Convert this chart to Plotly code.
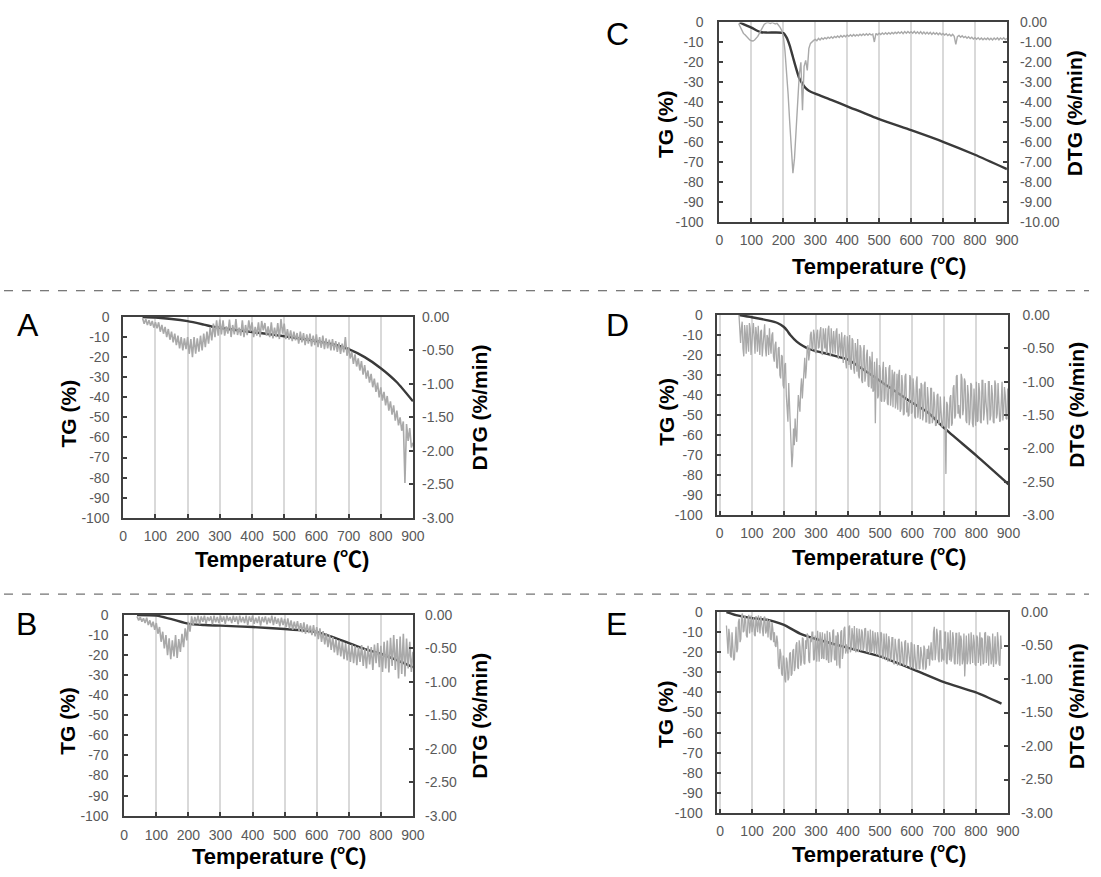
import plotly.graph_objects as go

# ---------------- DATA ----------------
temp_ticks = [0, 100, 200, 300, 400, 500, 600, 700, 800, 900]
tg_ticks = [0, -10, -20, -30, -40, -50, -60, -70, -80, -90, -100]
dtg_ticks_small = [0.0, -0.5, -1.0, -1.5, -2.0, -2.5, -3.0]
dtg_ticks_large = [0.0, -1.0, -2.0, -3.0, -4.0, -5.0, -6.0, -7.0, -8.0, -9.0, -10.0]

# Panel A
tg_a_x = [60, 100, 150, 200, 250, 280, 300, 350, 400, 450, 500, 550, 600, 650, 700, 750, 800, 850, 900]
tg_a_y = [0, -0.3, -1.0, -2.1, -3.8, -4.9, -5.4, -6.5, -7.5, -8.5, -9.6, -10.7, -12.0, -13.6, -16.0, -20.0, -25.5, -32.5, -42.0]
dtg_a_start, dtg_a_step = 60, 5
dtg_a = [
    -0.02, -0.10, -0.03, -0.12, -0.05, -0.13, -0.06, -0.16, -0.08, -0.17,
    -0.08, -0.22, -0.12, -0.25, -0.15, -0.30, -0.18, -0.34, -0.22, -0.38,
    -0.25, -0.42, -0.28, -0.47, -0.30, -0.50, -0.32, -0.48, -0.30, -0.55,
    -0.33, -0.60, -0.30, -0.55, -0.32, -0.52, -0.28, -0.50, -0.25, -0.45,
    -0.22, -0.40, -0.15, -0.35, -0.10, -0.30, -0.05, -0.28, -0.04, -0.26,
    -0.05, -0.28, -0.14, -0.25, -0.04, -0.30, -0.12, -0.26, -0.03, -0.27,
    -0.16, -0.28, -0.05, -0.30, -0.12, -0.27, -0.05, -0.22, -0.08, -0.30,
    -0.15, -0.28, -0.08, -0.30, -0.06, -0.20, -0.09, -0.28, -0.14, -0.30,
    -0.08, -0.32, -0.16, -0.30, -0.09, -0.33, -0.03, -0.25, -0.10, -0.33,
    -0.18, -0.34, -0.20, -0.36, -0.22, -0.35, -0.24, -0.40, -0.22, -0.38,
    -0.24, -0.42, -0.26, -0.40, -0.25, -0.44, -0.28, -0.42, -0.26, -0.45,
    -0.30, -0.46, -0.28, -0.48, -0.32, -0.47, -0.34, -0.50, -0.33, -0.50,
    -0.36, -0.52, -0.38, -0.55, -0.40, -0.53, -0.30, -0.58, -0.45, -0.62,
    -0.52, -0.70, -0.56, -0.74, -0.62, -0.80, -0.66, -0.86, -0.72, -0.92,
    -0.80, -0.98, -0.85, -1.05, -0.92, -1.12, -0.98, -1.20, -1.05, -1.25,
    -1.12, -1.32, -1.18, -1.40, -1.26, -1.46, -1.32, -1.55, -1.40, -1.62,
    -1.50, -1.70, -1.56, -2.48, -1.60, -1.85, -1.66, -1.95, -1.88,
]
dtg_a_mid = []

# Panel B
tg_b_x = [40, 100, 150, 200, 250, 300, 400, 500, 600, 650, 700, 750, 800, 850, 900]
tg_b_y = [0, -0.3, -2.2, -4.4, -5.0, -5.3, -6.0, -7.0, -8.5, -11.0, -14.0, -17.0, -19.3, -22.5, -26.0]
dtg_b_start, dtg_b_step = 40, 5
dtg_b = [
    -0.02, -0.08, -0.03, -0.10, -0.05, -0.12, -0.04, -0.15, -0.08, -0.18,
    -0.10, -0.22, -0.12, -0.28, -0.18, -0.40, -0.25, -0.50, -0.30, -0.60,
    -0.35, -0.66, -0.38, -0.62, -0.30, -0.64, -0.36, -0.55, -0.28, -0.48,
    -0.20, -0.38, -0.10, -0.25, -0.02, -0.15, -0.03, -0.12, -0.01, -0.14,
    -0.02, -0.10, -0.01, -0.13, -0.03, -0.09, -0.02, -0.14, -0.01, -0.11,
    -0.03, -0.12, -0.01, -0.10, -0.02, -0.13, -0.01, -0.09, -0.03, -0.12,
    -0.01, -0.10, -0.02, -0.14, -0.01, -0.11, -0.03, -0.12, -0.01, -0.15,
    -0.02, -0.10, -0.01, -0.13, -0.04, -0.12, -0.02, -0.16, -0.03, -0.11,
    -0.02, -0.14, -0.04, -0.12, -0.01, -0.15, -0.03, -0.13, -0.05, -0.17,
    -0.04, -0.15, -0.06, -0.18, -0.05, -0.20, -0.08, -0.22, -0.10, -0.21,
    -0.09, -0.24, -0.12, -0.26, -0.11, -0.28, -0.14, -0.27, -0.16, -0.30,
    -0.15, -0.32, -0.18, -0.36, -0.20, -0.40, -0.24, -0.44, -0.27, -0.48,
    -0.30, -0.52, -0.33, -0.56, -0.36, -0.60, -0.38, -0.62, -0.40, -0.66,
    -0.42, -0.68, -0.45, -0.70, -0.44, -0.72, -0.46, -0.75, -0.48, -0.70,
    -0.45, -0.76, -0.50, -0.80, -0.46, -0.74, -0.48, -0.82, -0.44, -0.72,
    -0.42, -0.78, -0.46, -0.85, -0.40, -0.80, -0.38, -0.86, -0.34, -0.76,
    -0.30, -0.82, -0.36, -0.95, -0.32, -0.88, -0.28, -0.92, -0.35, -0.80,
    -0.40, -0.85, -0.55,
]
dtg_b_mid = []

# Panel C
tg_c_x = [63, 80, 100, 120, 130, 150, 200, 210, 220, 230, 240, 250, 260, 270, 280, 300, 350, 400, 500, 600, 700, 800, 900]
tg_c_y = [0, -1.2, -2.6, -4.3, -4.9, -5.1, -5.3, -7.5, -11.6, -17.3, -23.0, -28.0, -30.8, -32.9, -34.2, -35.7, -38.8, -42.0, -48.5, -54.0, -59.8, -66.3, -73.5]
dtg_c_start, dtg_c_step = 60, 5
dtg_c = [
    -0.05, -0.25, -0.40, -0.55, -0.62, -0.72, -0.80, -0.88, -0.92, -0.93,
    -0.88, -0.80, -0.70, -0.55, -0.38, -0.22, -0.10, -0.04, 0.00, -0.02,
    -0.05, 0.00, -0.03, -0.08, -0.04, -0.12, -0.25, -0.40, -0.70, -1.40,
    -2.40, -3.60, -5.00, -6.40, -7.55, -6.80, -5.20, -3.70, -2.60, -2.00,
    -4.40, -2.20, -1.90, -2.40, -1.30, -1.05, -0.95, -0.90,
    -0.85, -0.92, -0.80, -0.88, -0.78, -0.84, -0.76, -0.82, -0.74, -0.80,
    -0.72, -0.79, -0.70, -0.76, -0.68, -0.75, -0.66, -0.73, -0.65, -0.72,
    -0.63, -0.70, -0.62, -0.69, -0.60, -0.68, -0.61, -0.67, -0.59, -0.66,
    -0.58, -0.65, -0.57, -0.64, -0.56, -0.63, -0.58, -0.98, -0.55, -0.62,
    -0.54, -0.61, -0.53, -0.60, -0.52, -0.59, -0.51, -0.58, -0.50, -0.57,
    -0.49, -0.56, -0.48, -0.55, -0.47, -0.56, -0.46, -0.54, -0.45, -0.53,
    -0.46, -0.54, -0.45, -0.55, -0.47, -0.56, -0.46, -0.57, -0.48, -0.58,
    -0.49, -0.58, -0.50, -0.60, -0.51, -0.59, -0.52, -0.61, -0.53, -0.62,
    -0.55, -0.63, -0.57, -0.66, -0.59, -0.68, -0.60, -0.70, -1.10, -0.71,
    -0.65, -0.74, -0.67, -0.76, -0.70, -0.79, -0.72, -0.81, -0.74, -0.83,
    -0.76, -0.84, -0.77, -0.86, -0.78, -0.87, -0.79, -0.86, -0.78, -0.87,
    -0.79, -0.88, -0.78, -0.86, -0.77, -0.87, -0.78, -0.85, -0.77, -0.86,
    -0.80,
]
dtg_c_mid = []

# Panel D
tg_d_x = [60, 100, 150, 180, 200, 210, 220, 240, 260, 280, 300, 350, 400, 430, 500, 600, 650, 700, 800, 900]
tg_d_y = [0, -1.1, -2.7, -4.0, -6.0, -7.8, -10.0, -13.3, -15.5, -17.1, -18.0, -20.0, -22.3, -25.3, -32.9, -43.8, -48.8, -56.5, -70.2, -84.5]
dtg_d_start, dtg_d_step = 60, 5
dtg_d = [
    0.00, -0.42, -0.10, -0.62, -0.28, -0.15, -0.55, -0.20, -0.48, -0.12,
    -0.58, -0.30, -0.16, -0.60, -0.22, -0.45, -0.14, -0.62, -0.35, -0.20,
    -0.58, -0.26, -0.70, -0.40, -0.80, -0.48, -0.95, -0.62, -1.10, -0.72,
    -1.35, -1.02, -1.75, -2.28, -1.70, -1.55, -1.90, -1.20, -1.45, -0.95,
    -1.05, -0.64, -0.80, -0.45, -0.58, -0.25, -0.52, -0.30, -0.57, -0.22,
    -0.48, -0.18, -0.60, -0.30, -0.20, -0.55, -0.16, -0.62, -0.35, -0.24,
    -0.58, -0.20, -0.66, -0.40, -0.26, -0.72, -0.30, -0.80, -0.45, -0.30,
    -0.82, -0.38, -0.88, -0.55, -0.36, -0.95, -0.50, -1.02, -0.45, -0.90,
    -0.52, -1.08, -0.70, -0.55, -1.12, -1.62, -0.65, -1.20, -0.80, -1.30,
    -0.70, -1.25, -0.95, -1.35, -0.75, -1.20, -1.38, -0.85, -1.30, -1.42,
    -0.82, -1.40, -1.05, -1.48, -0.88, -1.30, -1.50, -0.95, -1.45, -1.12,
    -1.55, -0.92, -1.40, -1.56, -1.05, -1.50, -1.00, -1.60, -1.25, -1.62,
    -1.10, -1.55, -1.30, -1.65, -1.18, -1.60, -1.40, -1.67, -1.22, -2.38,
    -1.35, -1.70, -1.20, -1.62, -1.05, -1.50, -0.90, -1.35, -1.55, -0.95,
    -1.40, -1.00, -1.62, -1.20, -1.55, -1.05, -1.68, -1.30, -1.00, -1.58,
    -1.15, -1.62, -0.98, -1.45, -1.30, -1.64, -1.00, -1.50, -1.20, -1.62,
    -1.05, -1.48, -1.25, -1.58, -1.00, -1.45, -1.20, -1.56, -1.30,
]
# readings between the 5-degree samples (62.5, 67.5, ...)
dtg_d_mid = [
    -0.30, -0.20, -0.50, -0.15, -0.58, -0.40, -0.12, -0.60, -0.25, -0.52,
    -0.18, -0.55, -0.40, -0.25, -0.62, -0.18, -0.50, -0.30, -0.60, -0.45,
    -0.30, -0.62, -0.45, -0.78, -0.50, -0.90, -0.60, -1.05, -0.75, -1.20,
    -1.60, -1.40, -2.00, -2.10, -1.95, -1.80, -1.50, -1.35, -1.10, -1.25,
    -0.70, -0.95, -0.50, -0.68, -0.30, -0.50, -0.22, -0.55, -0.28, -0.50,
    -0.25, -0.55, -0.20, -0.50, -0.58, -0.22, -0.45, -0.20, -0.58, -0.52,
    -0.25, -0.55, -0.28, -0.62, -0.68, -0.35, -0.70, -0.32, -0.75, -0.78,
    -0.35, -0.80, -0.42, -0.85, -0.90, -0.45, -0.98, -0.55, -1.00, -0.60,
    -1.05, -0.62, -1.10, -1.15, -0.70, -0.90, -1.25, -0.75, -1.28, -0.85,
    -1.30, -0.78, -1.32, -0.80, -1.36, -0.82, -0.90, -1.40, -0.88, -0.92,
    -1.45, -0.90, -1.50, -0.92, -1.46, -1.52, -0.90, -1.48, -0.95, -1.52,
    -1.00, -1.54, -1.10, -1.02, -1.58, -1.05, -1.60, -1.08, -1.62, -1.10,
    -1.62, -1.15, -1.66, -1.20, -1.64, -1.22, -1.68, -1.25, -1.70, -1.30,
    -1.68, -1.25, -1.66, -1.10, -1.55, -0.92, -1.48, -1.52, -0.88, -1.50,
    -0.95, -1.58, -1.05, -1.65, -1.02, -1.62, -1.10, -1.66, -1.60, -1.02,
    -1.60, -0.98, -1.58, -1.02, -1.62, -1.00, -1.58, -1.05, -1.60, -0.98,
    -1.55, -1.02, -1.60, -1.05, -1.58, -1.08, -1.55, -1.10,
]

# Panel E
tg_e_x = [20, 50, 100, 150, 170, 200, 250, 300, 400, 500, 600, 700, 800, 880]
tg_e_y = [0, -1.5, -3.0, -3.9, -4.7, -6.4, -10.7, -13.4, -17.8, -22.1, -28.3, -34.9, -40.0, -45.6]
dtg_e_start, dtg_e_step = 20, 5
dtg_e = [
    -0.20, -0.62, -0.35, -0.68, -0.45, -0.70, -0.22, -0.55, -0.10, -0.40,
    -0.02, -0.28, -0.12, -0.38, -0.04, -0.22, -0.30, -0.08, -0.36, -0.15,
    -0.05, -0.32, -0.18, -0.36, -0.07, -0.28, -0.38, -0.12, -0.42, -0.25,
    -0.30, -0.52, -0.45, -0.85, -0.62, -0.95, -0.70, -1.05, -0.75, -0.98,
    -0.60, -0.92, -0.55, -0.82, -0.45, -0.85, -0.52, -0.72, -0.40, -0.78,
    -0.55, -0.35, -0.76, -0.45, -0.30, -0.70, -0.50, -0.28, -0.74, -0.40,
    -0.30, -0.70, -0.45, -0.28, -0.76, -0.40, -0.62, -0.26, -0.72, -0.80,
    -0.35, -0.84, -0.27, -0.60, -0.22, -0.48, -0.62, -0.20, -0.55, -0.35,
    -0.21, -0.60, -0.38, -0.25, -0.58, -0.30, -0.52, -0.24, -0.60, -0.40,
    -0.26, -0.58, -0.45, -0.30, -0.64, -0.40, -0.66, -0.32, -0.70, -0.50,
    -0.32, -0.74, -0.45, -0.68, -0.38, -0.78, -0.55, -0.80, -0.40, -0.75,
    -0.55, -0.80, -0.42, -0.72, -0.60, -0.84, -0.48, -0.82, -0.65, -0.85,
    -0.50, -0.84, -0.62, -0.86, -0.55, -0.82, -0.70, -0.80, -0.45, -0.72,
    -0.22, -0.60, -0.35, -0.75, -0.28, -0.55, -0.72, -0.30, -0.78, -0.45,
    -0.27, -0.66, -0.40, -0.78, -0.32, -0.60, -0.80, -0.42, -0.70, -0.96,
    -0.35, -0.72, -0.50, -0.30, -0.76, -0.45, -0.80, -0.38, -0.62, -0.80,
    -0.40, -0.75, -0.30, -0.62, -0.80, -0.48, -0.70, -0.82, -0.36, -0.72,
    -0.45, -0.80, -0.55,
]
dtg_e_mid = [
    -0.50, -0.25, -0.65, -0.30, -0.72, -0.28, -0.60, -0.15, -0.45, -0.05,
    -0.30, -0.05, -0.35, -0.10, -0.32, -0.05, -0.12, -0.34, -0.06, -0.30,
    -0.30, -0.06, -0.35, -0.08, -0.32, -0.10, -0.14, -0.40, -0.15, -0.45,
    -0.50, -0.35, -0.80, -0.55, -0.92, -0.65, -1.00, -0.68, -1.02, -0.62,
    -0.95, -0.58, -0.88, -0.50, -0.82, -0.42, -0.80, -0.38, -0.76, -0.42,
    -0.32, -0.72, -0.38, -0.30, -0.72, -0.35, -0.74, -0.62, -0.30, -0.70,
    -0.68, -0.32, -0.72, -0.70, -0.30, -0.75, -0.28, -0.70, -0.35, -0.30,
    -0.78, -0.30, -0.70, -0.25, -0.62, -0.58, -0.22, -0.60, -0.24, -0.58,
    -0.56, -0.24, -0.60, -0.55, -0.26, -0.58, -0.25, -0.58, -0.28, -0.62,
    -0.60, -0.28, -0.62, -0.62, -0.30, -0.65, -0.30, -0.68, -0.32, -0.72,
    -0.70, -0.36, -0.74, -0.38, -0.76, -0.40, -0.78, -0.42, -0.80, -0.44,
    -0.78, -0.45, -0.82, -0.46, -0.80, -0.45, -0.84, -0.48, -0.85, -0.50,
    -0.85, -0.52, -0.84, -0.50, -0.86, -0.55, -0.50, -0.62, -0.70, -0.30,
    -0.72, -0.25, -0.70, -0.28, -0.74, -0.70, -0.30, -0.75, -0.30, -0.72,
    -0.74, -0.30, -0.76, -0.32, -0.78, -0.30, -0.35, -0.78, -0.32, -0.40,
    -0.78, -0.32, -0.78, -0.72, -0.34, -0.78, -0.35, -0.76, -0.30, -0.38,
    -0.78, -0.32, -0.76, -0.35, -0.36, -0.78, -0.32, -0.40, -0.78, -0.30,
    -0.78, -0.35,
]

# ---------------- LAYOUT / STYLE ----------------
W, H = 1101, 877
TG_COLOR = "#3a3a3a"
DTG_COLOR = "#a9a9a9"
AXIS_COLOR = "#404040"
TICK_COLOR = "#595959"
GRID_COLOR = "#d9d9d9"
FONT = "Liberation Sans, Arial, Noto Sans CJK KR, sans-serif"


def fx(px):
    return px / W


def fy(py):
    return 1 - py / H


def fmt_int(v):
    return ("-" + str(abs(int(v)))) if v < 0 else str(int(v))


def fmt_dec(v):
    s = "%.2f" % abs(v)
    return ("-" + s) if v < 0 else s


def dtg_series(start, step, vals, mids):
    pts = [(start + step * k, v) for k, v in enumerate(vals)]
    pts += [(start + step * k + step / 2.0, v) for k, v in enumerate(mids)]
    pts.sort(key=lambda q: q[0])
    return [q[0] for q in pts], [q[1] for q in pts]


panels = [
    dict(key="A", box=(121, 314.7, 415, 519.3), xr=[0, 900],
         tg=(tg_a_x, tg_a_y), dtg=(dtg_a_start, dtg_a_step, dtg_a, dtg_a_mid), big=False,
         lso=9, rso=8, xso=4, dw=1.6,
         letter=(24, 323), tgt=(65, 413), dtgt=(483, 407), tt=(282, 562)),
    dict(key="B", box=(122, 618.3, 415, 822.7), xr=[0, 900],
         tg=(tg_b_x, tg_b_y), dtg=(dtg_b_start, dtg_b_step, dtg_b, dtg_b_mid), big=False,
         lso=11, rso=11, xso=6, dw=1.6,
         letter=(23, 627), tgt=(65, 726), dtgt=(483, 721), tt=(279, 864)),
    dict(key="C", box=(726, 14.7, 1017.7, 218), xr=[0, 900],
         tg=(tg_c_x, tg_c_y), dtg=(dtg_c_start, dtg_c_step, dtg_c, dtg_c_mid), big=True,
         lso=11, rso=12, xso=4, dw=1.4,
         letter=(623, 26), tgt=(672, 118), dtgt=(1086, 107), tt=(888, 263)),
    dict(key="D", box=(724, 312.7, 1019.3, 516.7), xr=[-7, 900],
         tg=(tg_d_x, tg_d_y), dtg=(dtg_d_start, dtg_d_step, dtg_d, dtg_d_mid), big=False,
         lso=10, rso=13, xso=4, dw=1.3,
         letter=(623, 323), tgt=(672, 411), dtgt=(1088, 404), tt=(888, 560)),
    dict(key="E", box=(724, 615.3, 1018.7, 820), xr=[-8, 900],
         tg=(tg_e_x, tg_e_y), dtg=(dtg_e_start, dtg_e_step, dtg_e, dtg_e_mid), big=False,
         lso=10, rso=12, xso=4, dw=1.3,
         letter=(622, 627), tgt=(672, 719), dtgt=(1088, 711), tt=(888, 862)),
]

fig = go.Figure()
layout = dict(
    width=W, height=H, margin=dict(l=0, r=0, t=0, b=0),
    paper_bgcolor="white", plot_bgcolor="white", showlegend=False,
    font=dict(family=FONT, color=TICK_COLOR, size=14),
)
annotations = []
shapes = []

for i, p in enumerate(panels):
    n = i + 1
    xa = "x" if n == 1 else "x%d" % n
    ya = "y%d" % (2 * n - 1) if n > 1 else "y"
    yb = "y%d" % (2 * n)
    xkey = "xaxis" if n == 1 else "xaxis%d" % n
    ykey = "yaxis" if n == 1 else "yaxis%d" % (2 * n - 1)
    y2key = "yaxis%d" % (2 * n)

    l, t, r, b = p["box"]
    xdom = [fx(l), fx(r)]
    ydom = [fy(b), fy(t)]

    layout[xkey] = dict(
        domain=xdom, anchor=ya, range=p["xr"], tickmode="array",
        tickvals=temp_ticks, ticktext=[str(v) for v in temp_ticks],
        showgrid=True, gridcolor=GRID_COLOR, gridwidth=2,
        showline=True, linecolor=AXIS_COLOR, linewidth=2, mirror=True,
        ticks="inside", ticklen=4, tickcolor=AXIS_COLOR, tickwidth=1.5,
        tickfont=dict(family=FONT, size=14, color=TICK_COLOR), zeroline=False,
        ticklabelstandoff=p["xso"],
    )
    layout[ykey] = dict(
        domain=ydom, anchor=xa, range=[-100, 0], tickmode="array",
        tickvals=tg_ticks, ticktext=[fmt_int(v) for v in tg_ticks],
        showgrid=False, zeroline=False,
        showline=True, linecolor=AXIS_COLOR, linewidth=2, mirror=True,
        ticks="inside", ticklen=4, tickcolor=AXIS_COLOR, tickwidth=1.5,
        tickfont=dict(family=FONT, size=14, color=TICK_COLOR),
        ticklabelstandoff=p["lso"],
    )
    dticks = dtg_ticks_large if p["big"] else dtg_ticks_small
    layout[y2key] = dict(
        overlaying=ya, anchor=xa, side="right", range=[min(dticks), 0],
        tickmode="array", tickvals=dticks, ticktext=[fmt_dec(v) for v in dticks],
        showgrid=False, zeroline=False, showline=False,
        ticks="inside", ticklen=4, tickcolor=AXIS_COLOR, tickwidth=1.5,
        tickfont=dict(family=FONT, size=14, color=TICK_COLOR),
        ticklabelstandoff=p["rso"],
    )

    tgx, tgy = p["tg"]
    fig.add_trace(go.Scatter(
        x=tgx, y=tgy, mode="lines", xaxis=xa, yaxis=ya,
        line=dict(color=TG_COLOR, width=2.4, shape="spline", smoothing=0.6),
        hoverinfo="skip",
    ))
    dx, dy = dtg_series(*p["dtg"])
    fig.add_trace(go.Scatter(
        x=dx, y=dy, mode="lines", xaxis=xa, yaxis=yb,
        line=dict(color=DTG_COLOR, width=p["dw"]),
        hoverinfo="skip",
    ))

    lx, ly = p["letter"]
    annotations.append(dict(
        text=p["key"], x=fx(lx), y=fy(ly), xref="paper", yref="paper",
        xanchor="center", yanchor="middle", showarrow=False,
        font=dict(family=FONT, size=32, color="#000000"),
    ))
    tx, ty = p["tgt"]
    annotations.append(dict(
        text="<b>TG (%)</b>", x=fx(tx), y=fy(ty), xref="paper", yref="paper",
        xanchor="center", yanchor="middle", showarrow=False, textangle=-90,
        font=dict(family=FONT, size=21, color="#000000"),
    ))
    tx, ty = p["dtgt"]
    annotations.append(dict(
        text="<b>DTG (%/min)</b>", x=fx(tx), y=fy(ty), xref="paper", yref="paper",
        xanchor="center", yanchor="middle", showarrow=False, textangle=-90,
        font=dict(family=FONT, size=21, color="#000000"),
    ))
    tx, ty = p["tt"]
    annotations.append(dict(
        text="<b>Temperature (℃)</b>", x=fx(tx), y=fy(ty), xref="paper", yref="paper",
        xanchor="center", yanchor="middle", showarrow=False,
        font=dict(family=FONT, size=22, color="#000000"),
    ))

for sy in (288, 597):
    shapes.append(dict(
        type="line", xref="paper", yref="paper", x0=0, x1=1, y0=fy(sy), y1=fy(sy),
        line=dict(color="#505050", width=1, dash="dash"),
    ))

layout["annotations"] = annotations
layout["shapes"] = shapes
fig.update_layout(**layout)

fig.write_html(
    "out.html",
    config={"displayModeBar": False},
    post_script="document.body.style.margin='0';document.body.style.overflow='hidden';",
)
